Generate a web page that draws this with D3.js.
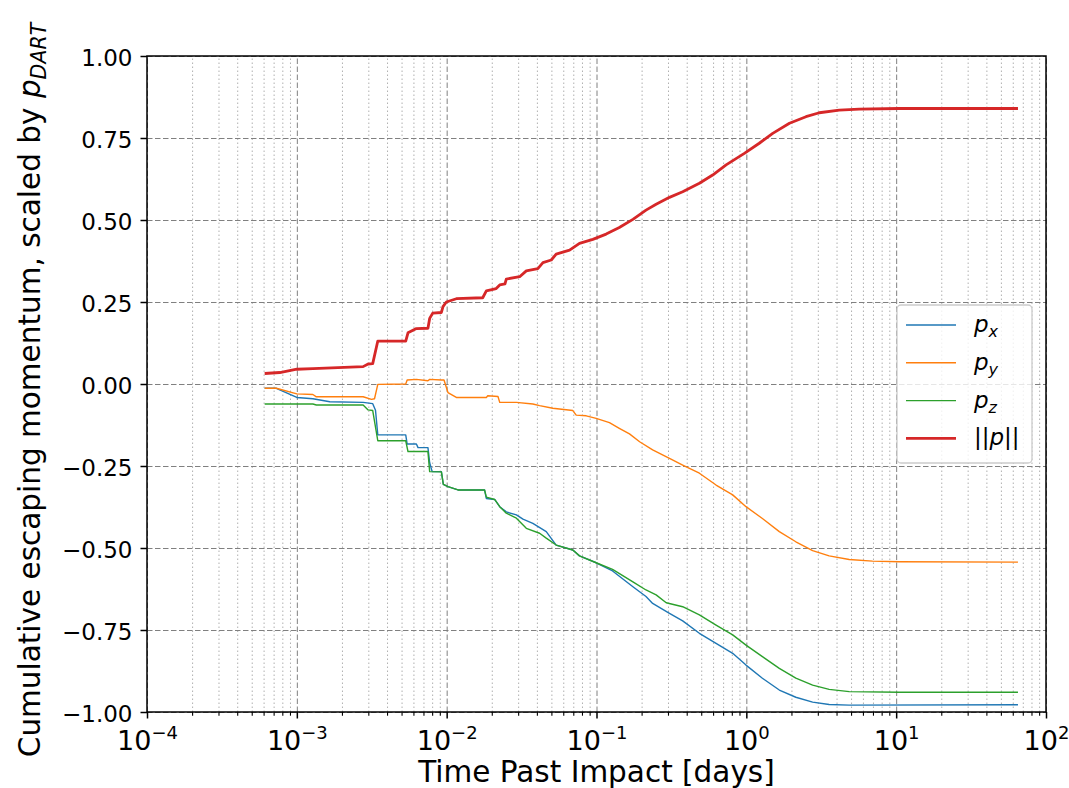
<!DOCTYPE html>
<html>

<head>
    <meta charset="UTF-8">
    <script src="https://d3js.org/d3.v7.min.js"></script>
    <style>
        body {
            margin: 0;
            background-color: white;
        }

        text {
            font-family: 'DejaVu Sans', sans-serif;
            fill: black;
        }
    </style>
</head>

<body>
    <svg id="chart" width="1069" height="788"></svg>
    <script>
        // momentum components, [time in days, value / p_DART]
        var px = [[6.1e-4, -0.013], [7.3e-4, -0.013], [1.0e-3, -0.041], [1.28e-3, -0.045], [1.66e-3, -0.054],
            [2.77e-3, -0.056], [3.21e-3, -0.060], [3.35e-3, -0.080], [3.47e-3, -0.155], [5.33e-3, -0.155],
            [5.45e-3, -0.183], [6.28e-3, -0.183], [6.44e-3, -0.194], [7.5e-3, -0.194], [7.7e-3, -0.240],
            [8.0e-3, -0.267], [9.22e-3, -0.267], [9.5e-3, -0.306], [1.02e-2, -0.313], [1.19e-2, -0.323],
            [1.79e-2, -0.323], [1.84e-2, -0.349], [2.09e-2, -0.352], [2.26e-2, -0.374], [2.50e-2, -0.390],
            [2.92e-2, -0.399], [3.23e-2, -0.412], [3.76e-2, -0.425], [4.62e-2, -0.450], [5.38e-2, -0.491],
            [6.95e-2, -0.506], [7.7e-2, -0.524], [9.95e-2, -0.545], [0.128, -0.570], [0.175, -0.618],
            [0.214, -0.648], [0.237, -0.669], [0.307, -0.699], [0.376, -0.722], [0.486, -0.760],
            [0.628, -0.791], [0.811, -0.821], [0.995, -0.857], [1.28, -0.897], [1.66, -0.933],
            [2.14, -0.955], [2.77, -0.970], [3.57, -0.977], [4.86, -0.979], [65, -0.978]];

        var py = [[6.1e-4, -0.013], [7.3e-4, -0.013], [1.0e-3, -0.030], [1.28e-3, -0.032], [1.35e-3, -0.039],
            [2.77e-3, -0.039], [3.15e-3, -0.047], [3.3e-3, -0.045], [3.47e-3, -0.001], [5.33e-3, 0.0],
            [5.45e-3, 0.012], [6.28e-3, 0.014], [7.5e-3, 0.010], [7.7e-3, 0.014], [9.22e-3, 0.012],
            [9.6e-3, 0.012], [1.02e-2, -0.026], [1.16e-2, -0.041], [1.84e-2, -0.041], [1.88e-2, -0.036],
            [2.2e-2, -0.038], [2.26e-2, -0.056], [2.92e-2, -0.056], [3.76e-2, -0.061], [4.17e-2, -0.066],
            [5.11e-2, -0.074], [6.95e-2, -0.081], [7.32e-2, -0.095], [8.54e-2, -0.097], [9.95e-2, -0.105],
            [0.122, -0.118], [0.142, -0.135], [0.166, -0.152], [0.194, -0.176], [0.237, -0.201],
            [0.307, -0.227], [0.376, -0.247], [0.486, -0.272], [0.628, -0.308], [0.811, -0.338],
            [0.995, -0.374], [1.28, -0.410], [1.66, -0.450], [2.14, -0.481], [2.77, -0.508],
            [3.57, -0.524], [4.86, -0.535], [6.95, -0.540], [10.5, -0.542], [65, -0.543]];

        var pz = [[6.1e-4, -0.061], [1.28e-3, -0.061], [1.35e-3, -0.064], [2.77e-3, -0.064], [2.99e-3, -0.079],
            [3.21e-3, -0.081], [3.47e-3, -0.173], [5.33e-3, -0.173], [5.52e-3, -0.206], [7.5e-3, -0.206],
            [7.7e-3, -0.267], [9.22e-3, -0.268], [9.5e-3, -0.306], [1.02e-2, -0.313], [1.19e-2, -0.323],
            [1.79e-2, -0.323], [1.84e-2, -0.345], [2.09e-2, -0.352], [2.26e-2, -0.374], [2.50e-2, -0.394],
            [2.92e-2, -0.409], [3.40e-2, -0.440], [4.17e-2, -0.455], [4.62e-2, -0.470], [5.38e-2, -0.491],
            [6.95e-2, -0.506], [7.7e-2, -0.524], [9.95e-2, -0.545], [0.128, -0.565], [0.175, -0.603],
            [0.214, -0.628], [0.25, -0.643], [0.292, -0.667], [0.376, -0.679], [0.486, -0.704],
            [0.628, -0.735], [0.811, -0.765], [0.995, -0.796], [1.28, -0.831], [1.66, -0.867],
            [2.14, -0.897], [2.77, -0.918], [3.57, -0.931], [4.86, -0.938], [10.5, -0.940], [65, -0.940]];

        var pnorm = [[6.1e-4, 0.032], [7.7e-4, 0.035], [1.0e-3, 0.045], [1.28e-3, 0.047], [2.77e-3, 0.053],
            [2.99e-3, 0.061], [3.21e-3, 0.062], [3.47e-3, 0.131], [5.33e-3, 0.131], [5.52e-3, 0.156],
            [6.28e-3, 0.169], [7.5e-3, 0.170], [7.7e-3, 0.200], [8.07e-3, 0.216], [9.22e-3, 0.218],
            [9.45e-3, 0.236], [9.95e-3, 0.250], [1.16e-2, 0.260], [1.74e-2, 0.263], [1.84e-2, 0.284],
            [2.14e-2, 0.291], [2.26e-2, 0.302], [2.45e-2, 0.305], [2.50e-2, 0.320], [3.07e-2, 0.327],
            [3.40e-2, 0.345], [4.06e-2, 0.352], [4.39e-2, 0.370], [4.99e-2, 0.378], [5.38e-2, 0.396],
            [6.61e-2, 0.408], [7.7e-2, 0.429], [9.45e-2, 0.441], [0.116, 0.457], [0.142, 0.477],
            [0.175, 0.502], [0.214, 0.530], [0.25, 0.548], [0.307, 0.569], [0.376, 0.586],
            [0.486, 0.612], [0.596, 0.637], [0.733, 0.668], [0.97, 0.703], [1.22, 0.734],
            [1.50, 0.764], [1.94, 0.795], [2.50, 0.815], [3.07, 0.827], [4.17, 0.835],
            [5.67, 0.838], [10.5, 0.840], [65, 0.840]];

        var seriesNames = ["x", "y", "z", "norm"];
        var seriesColors = ["#1f77b4", "#ff7f0e", "#2ca02c", "#d62728"];

        var xMajor = [1e-4, 1e-3, 1e-2, 1e-1, 1e0, 1e1, 1e2];
        var xExponents = ["\u22124", "\u22123", "\u22122", "\u22121", "0", "1", "2"];
        var yTicks = [-1, -0.75, -0.5, -0.25, 0, 0.25, 0.5, 0.75, 1];

        var plotLeft = 147, plotRight = 1046, plotTop = 56, plotBottom = 712;

        var svg = d3.select("#chart");

        var x = d3.scaleLog().domain([1e-4, 1e2]).range([plotLeft, plotRight]);
        var y = d3.scaleLinear().domain([-1, 1]).range([plotBottom, plotTop]);

        // minor ticks 2..9 in every decade
        var xMinor = [];
        xMajor.slice(0, -1).forEach(function (d) {
            for (var k = 2; k < 10; k++) xMinor.push(d * k);
        });

        // grid
        svg.append("g")
            .attr("transform", "translate(0," + plotBottom + ")")
            .call(d3.axisBottom(x).tickValues(xMinor).tickSize(-(plotBottom - plotTop)).tickFormat(""))
            .call(function (g) {
                g.select(".domain").remove();
                g.selectAll("line").attr("stroke", "#b0b0b0").attr("stroke-width", 1).attr("stroke-dasharray", "1.5,2.5");
            });

        svg.append("g")
            .attr("transform", "translate(0," + plotBottom + ")")
            .call(d3.axisBottom(x).tickValues(xMajor).tickSize(-(plotBottom - plotTop)).tickFormat(""))
            .call(function (g) {
                g.select(".domain").remove();
                g.selectAll("line").attr("stroke", "#808080").attr("stroke-width", 1).attr("stroke-dasharray", "5.5,2.5");
            });

        svg.append("g")
            .attr("transform", "translate(" + plotLeft + ",0)")
            .call(d3.axisLeft(y).tickValues(yTicks).tickSize(-(plotRight - plotLeft)).tickFormat(""))
            .call(function (g) {
                g.select(".domain").remove();
                g.selectAll("line").attr("stroke", "#808080").attr("stroke-width", 1).attr("stroke-dasharray", "5.5,2.5");
            });

        // lines
        var line = d3.line()
            .x(function (d) { return x(d[0]); })
            .y(function (d) { return y(d[1]); });

        [px, py, pz, pnorm].forEach(function (s, i) {
            svg.append("path")
                .datum(s)
                .attr("fill", "none")
                .attr("stroke", seriesColors[i])
                .attr("stroke-width", i == 3 ? 2.8 : 1.4)
                .attr("stroke-linejoin", "round")
                .attr("d", line);
        });

        // axes
        svg.append("g")
            .attr("transform", "translate(0," + plotBottom + ")")
            .call(d3.axisBottom(x).tickValues(xMinor).tickSize(3.7).tickFormat(""))
            .call(function (g) {
                g.select(".domain").remove();
                g.selectAll("line").attr("stroke", "black").attr("stroke-width", 1.1);
            });

        var xAxis = svg.append("g")
            .attr("transform", "translate(0," + plotBottom + ")")
            .call(d3.axisBottom(x).tickValues(xMajor).tickSize(6.5).tickPadding(7).tickFormat(""));
        xAxis.select(".domain").remove();
        xAxis.selectAll("line").attr("stroke", "black").attr("stroke-width", 1.5);
        xAxis.selectAll(".tick text")
            .attr("font-size", 27)
            .attr("font-family", "DejaVu Sans")
            .attr("dy", "0.9em")
            .each(function (d, i) {
                var t = d3.select(this);
                t.append("tspan").text("10");
                t.append("tspan").attr("font-size", 18).attr("dy", -11).text(xExponents[i]);
            });

        var yAxis = svg.append("g")
            .attr("transform", "translate(" + plotLeft + ",0)")
            .call(d3.axisLeft(y).tickValues(yTicks).tickSize(6.5).tickPadding(8)
                .tickFormat(function (d) { return d3.format(".2f")(d).replace("-", "\u2212"); }));
        yAxis.select(".domain").remove();
        yAxis.selectAll("line").attr("stroke", "black").attr("stroke-width", 1.5);
        yAxis.selectAll("text").attr("font-size", 23).attr("font-family", "DejaVu Sans").attr("dy", "0.4em");

        // frame
        svg.append("rect")
            .attr("x", plotLeft).attr("y", plotTop)
            .attr("width", plotRight - plotLeft).attr("height", plotBottom - plotTop)
            .attr("fill", "none").attr("stroke", "black").attr("stroke-width", 1.5);

        // axis labels
        svg.append("text")
            .attr("x", (plotLeft + plotRight) / 2).attr("y", 782)
            .attr("text-anchor", "middle")
            .attr("font-size", 29.5)
            .text("Time Past Impact [days]");

        var yl = svg.append("text")
            .attr("transform", "translate(40," + ((plotTop + plotBottom) / 2 + 6) + ") rotate(-90)")
            .attr("text-anchor", "middle")
            .attr("font-size", 29.5);
        yl.append("tspan").text("Cumulative escaping momentum, scaled by ");
        yl.append("tspan").attr("font-style", "italic").text("p");
        yl.append("tspan").attr("font-style", "italic").attr("font-size", 20.5).attr("dy", 6).text("DART");

        // legend
        var legend = svg.append("g");
        legend.append("rect")
            .attr("x", 897).attr("y", 305).attr("width", 135).attr("height", 158)
            .attr("rx", 4)
            .attr("fill", "white").attr("fill-opacity", 0.8)
            .attr("stroke", "#cccccc").attr("stroke-width", 1.3);

        seriesNames.forEach(function (name, i) {
            var ly = 325 + i * 37.8;
            legend.append("line")
                .attr("x1", 906).attr("x2", 956)
                .attr("y1", ly).attr("y2", ly)
                .attr("stroke", seriesColors[i])
                .attr("stroke-width", i == 3 ? 2.8 : 1.4);
            var t = legend.append("text")
                .attr("x", 974).attr("y", ly + 7)
                .attr("font-size", 23)
                .attr("font-style", "italic");
            if (name == "norm") {
                t.append("tspan").attr("font-style", "normal").text("||");
                t.append("tspan").text("p");
                t.append("tspan").attr("font-style", "normal").text("||");
            } else {
                t.append("tspan").text("p");
                t.append("tspan").attr("font-size", 16).attr("dy", 5).text(name);
            }
        });
    </script>
</body>

</html>
